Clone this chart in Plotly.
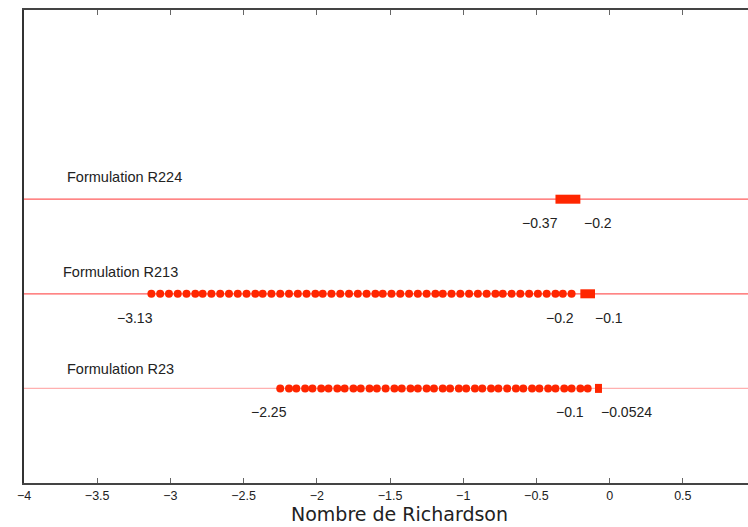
import plotly.graph_objects as go

# Richardson number ranges for three formulations
formulations = ["Formulation R23", "Formulation R213", "Formulation R224"]
rows = [1, 2, 3]

# sampled points (dots) per formulation
dots_r23 = [-2.25, -2.19, -2.14, -2.08, -2.03, -1.97, -1.92, -1.86, -1.81, -1.75,
            -1.70, -1.64, -1.59, -1.53, -1.47, -1.42, -1.36, -1.31, -1.25, -1.20,
            -1.14, -1.09, -1.03, -0.98, -0.92, -0.87, -0.81, -0.76, -0.70, -0.64,
            -0.59, -0.53, -0.48, -0.42, -0.37, -0.31, -0.26, -0.20, -0.15]
dots_r213 = [-3.13, -3.07, -3.01, -2.95, -2.89, -2.83, -2.78, -2.72, -2.66, -2.60,
             -2.54, -2.48, -2.42, -2.37, -2.31, -2.25, -2.19, -2.13, -2.07, -2.01,
             -1.96, -1.90, -1.84, -1.78, -1.72, -1.66, -1.60, -1.55, -1.49, -1.43,
             -1.37, -1.31, -1.25, -1.19, -1.14, -1.08, -1.02, -0.96, -0.90, -0.84,
             -0.78, -0.73, -0.67, -0.61, -0.55, -0.49, -0.43, -0.37, -0.32, -0.26]
dots_r224 = []
dots = [dots_r23, dots_r213, dots_r224]

# stable interval (thick bar) per formulation
bar_lo = [-0.1, -0.2, -0.37]
bar_hi = [-0.0524, -0.1, -0.2]

# value labels per formulation: (value, text)
labels_r23 = [(-2.25, "−2.25"), (-0.1, "−0.1"), (-0.0524, "−0.0524")]
labels_r213 = [(-3.13, "−3.13"), (-0.2, "−0.2"), (-0.1, "−0.1")]
labels_r224 = [(-0.37, "−0.37"), (-0.2, "−0.2")]
value_labels = [labels_r23, labels_r213, labels_r224]

x_ticks = [-4, -3.5, -3, -2.5, -2, -1.5, -1, -0.5, 0, 0.5]

# label placement styles (anchor, pixel shift)
label_style = [
    [("right", 9), ("right", -9), ("left", -3)],
    [("right", 4), ("right", -4), ("left", -2)],
    [("right", 5), ("left", 2)],
]
guide_colors = ["#ffb0b0", "#ff5c5c", "#ff5c5c"]
title_shift = [19, 22, 22]
title_x = [-3.72, -3.75, -3.72]

RED = "#ff2600"

fig = go.Figure()

for i, y in enumerate(rows):
    fig.add_shape(type="line", xref="x domain", yref="y", x0=0, x1=1, y0=y, y1=y,
                  line=dict(color=guide_colors[i], width=1.3), layer="below")
    if dots[i]:
        fig.add_trace(go.Scatter(x=dots[i], y=[y] * len(dots[i]), mode="markers",
                                 marker=dict(size=8, color=RED, line=dict(width=0)),
                                 hoverinfo="x", showlegend=False))
    fig.add_trace(go.Scatter(x=[bar_lo[i], bar_hi[i]], y=[y, y], mode="lines",
                             line=dict(color=RED, width=9), hoverinfo="x",
                             showlegend=False))
    for (val, txt), (anchor, shift) in zip(value_labels[i], label_style[i]):
        fig.add_annotation(x=val, y=y, text=txt, showarrow=False, xanchor=anchor,
                           xshift=shift, yshift=-24, yanchor="middle",
                           font=dict(family="Liberation Sans, Arial", size=14,
                                     color="#222222"))
    fig.add_annotation(x=title_x[i], y=y, text=formulations[i], showarrow=False,
                       xanchor="left", yanchor="middle", yshift=title_shift[i],
                       font=dict(family="Liberation Sans, Arial", size=14.5,
                                 color="#222222"))

fig.add_annotation(x=0.519, y=-0.066, xref="paper", yref="paper",
                   text="Nombre de Richardson", showarrow=False,
                   xanchor="center", yanchor="middle",
                   font=dict(family="DejaVu Sans", size=19, color="#222222"))

fig.update_xaxes(range=[-4, 0.945], tickvals=x_ticks,
                 ticktext=[("−" + str(abs(t))) if t < 0 else str(t) for t in x_ticks],
                 ticks="inside", ticklen=5, tickwidth=1, tickcolor="#666666",
                 showline=True, linecolor="#444444", linewidth=1.5, mirror="ticks",
                 showgrid=False, zeroline=False,
                 tickfont=dict(family="Liberation Sans, Arial", size=12.5, color="#222222"))
fig.update_yaxes(range=[0, 5], showticklabels=False, ticks="", showline=True,
                 linecolor="#333333", linewidth=2, mirror=False,
                 showgrid=False, zeroline=False)

fig.update_layout(width=748, height=527, margin=dict(l=24, r=0, t=10, b=44),
                  plot_bgcolor="white", paper_bgcolor="white", showlegend=False)

fig.write_html("out.html")
